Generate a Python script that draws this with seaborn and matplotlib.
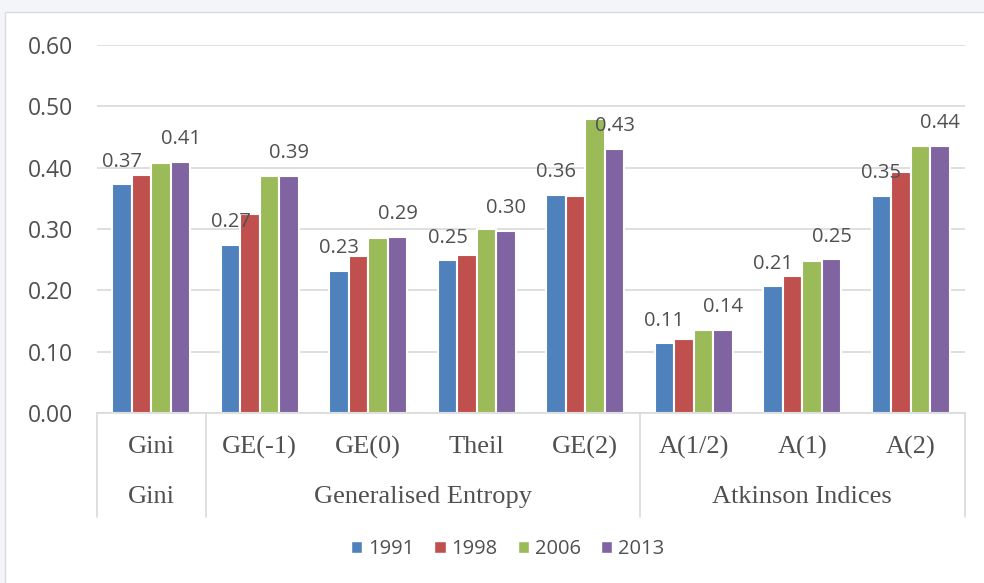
import pandas as pd
import seaborn as sns
import matplotlib.pyplot as plt
from matplotlib.patches import Rectangle
from matplotlib.lines import Line2D
from matplotlib.ticker import FormatStrFormatter

# Inequality indices by year
indices = ["Gini", "GE(-1)", "GE(0)", "Theil", "GE(2)", "A(1/2)", "A(1)", "A(2)"]
groups = ["Gini", "Generalised Entropy", "Atkinson Indices"]
group_sizes = [1, 4, 3]
years = ["1991", "1998", "2006", "2013"]

v1991 = [0.373, 0.274, 0.232, 0.249, 0.356, 0.114, 0.207, 0.354]
v1998 = [0.388, 0.325, 0.256, 0.258, 0.354, 0.121, 0.224, 0.393]
v2006 = [0.407, 0.386, 0.285, 0.300, 0.480, 0.135, 0.248, 0.435]
v2013 = [0.410, 0.387, 0.287, 0.297, 0.431, 0.136, 0.251, 0.436]

labelled_years = ["1991", "2013"]
colors = ["#4f81bd", "#c0504d", "#9bbb59", "#8064a2"]
text_color = "#505050"

# Long-form table for seaborn
frames = []
for year, vals in zip(years, [v1991, v1998, v2006, v2013]):
    frames.append(pd.DataFrame({"index": indices, "value": vals, "year": year}))
data = pd.concat(frames, ignore_index=True)

sns.set_theme(style="white")
plt.rcParams["font.family"] = ["Open Sans", "DejaVu Sans"]

fig = plt.figure(figsize=(9.84, 5.83), dpi=100, facecolor="#f4f5f9")
fig.patches.append(Rectangle((5 / 984, -0.1), 1.1, 1.1 - 12 / 583,
                             transform=fig.transFigure, facecolor="white",
                             edgecolor="#d9dbe0", linewidth=1, zorder=-1))
ax = fig.add_axes([97 / 984, 1 - 413 / 583, 868 / 984, 368 / 583])
ax.set_facecolor("none")

sns.barplot(data=data, x="index", y="value", hue="year", order=indices,
            hue_order=years, palette=colors, saturation=1, width=0.72,
            edgecolor="white", linewidth=1.5, ax=ax)

# Data labels on first and last year only
for year, container in zip(years, ax.containers):
    if year in labelled_years:
        ax.bar_label(container, fmt="%.2f", padding=9, fontsize=14.5,
                     color=text_color)

ax.set_ylim(0, 0.6)
ax.set_xlim(-0.5, len(indices) - 0.5)
ax.set_yticks([0, 0.1, 0.2, 0.3, 0.4, 0.5, 0.6])
ax.yaxis.set_major_formatter(FormatStrFormatter("%.2f"))
ax.tick_params(axis="y", length=0, pad=17, labelsize=16.5, labelcolor=text_color)
ax.grid(axis="y", color="#d9d9d9", linewidth=1.2)
ax.set_axisbelow(True)
for side in ["left", "top", "right"]:
    ax.spines[side].set_visible(False)
ax.spines["bottom"].set_color("#d9d9d9")
ax.spines["bottom"].set_linewidth(1.2)
ax.set_xlabel("")
ax.set_ylabel("")

# Two-level category axis
ax.set_xticks([])
row1 = -34 / 368
row2 = -84 / 368
sep_bottom = -104 / 368
trans = ax.get_xaxis_transform()
for i, name in enumerate(indices):
    ax.text(i, row1, name, transform=trans, ha="center", va="center",
            fontsize=19, family="Liberation Serif", color=text_color)

start = 0
bounds = [-0.5]
for name, size in zip(groups, group_sizes):
    centre = start + (size - 1) / 2
    ax.text(centre, row2, name, transform=trans, ha="center", va="center",
            fontsize=19, family="Liberation Serif", color=text_color)
    start += size
    bounds.append(start - 0.5)
for b in bounds:
    ax.add_line(Line2D([b, b], [0, sep_bottom], transform=trans,
                       color="#d9d9d9", linewidth=1.2, clip_on=False))

# Legend below
ax.get_legend().remove()
handles = [Rectangle((0, 0), 1, 1, facecolor=c) for c in colors]
fig.legend(handles, years, loc="center", bbox_to_anchor=(0.516, 1 - 549 / 583),
           ncol=4, frameon=False, fontsize=14.5, handlelength=0.55,
           handleheight=0.6, handletextpad=0.3, columnspacing=1.0,
           labelcolor=text_color)

fig.savefig("out.png", dpi=100, facecolor=fig.get_facecolor())
